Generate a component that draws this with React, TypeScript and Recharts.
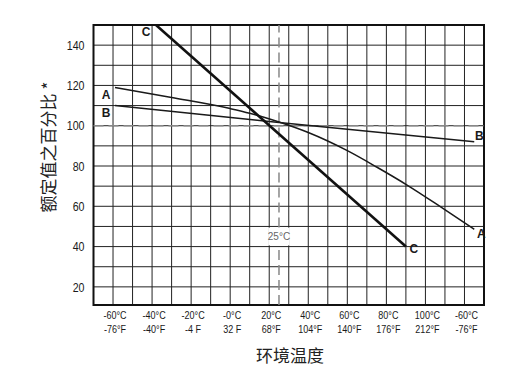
import React from 'react'
import { LineChart, Line, XAxis, YAxis, CartesianGrid, ReferenceLine, ReferenceArea, LabelList } from 'recharts'

// temperature (°C) / percent of rated value
const tempsA = [-59, -30, 0, 10, 27, 40, 60, 75, 91, 108, 125]
const valuesA = [119, 114, 108.5, 106.2, 101.2, 96.6, 87.6, 79.5, 70.3, 59.6, 48.6]
const tempsB = [-59, 25, 125]
const valuesB = [110, 101.6, 92]
const tempsC = [-38, 90]
const valuesC = [150, 40]

const gridTemps = [-70, -60, -50, -40, -30, -20, -10, 0, 10, 20, 30, 40, 50, 60, 70, 80, 90, 100, 110, 120, 130]
const labelTemps = [-60, -40, -20, 0, 20, 40, 60, 80, 100, 120]
const celsiusLabels = ['-60°C', '-40°C', '-20°C', '-0°C', '20°C', '40°C', '60°C', '80°C', '100°C', '-60°C']
const fahrenheitLabels = ['-76°F', '-40°F', '-4 F', '32 F', '68°F', '104°F', '140°F', '176°F', '212°F', '-76°F']
const gridValues = [20, 30, 40, 50, 60, 70, 80, 90, 100, 110, 120, 130, 140, 150]
const labelValues = [20, 40, 60, 80, 100, 120, 140]

const toRows = (t: number[], v: number[]) => t.map((x, i) => ({ t: x, v: v[i] }))
const dataA = toRows(tempsA, valuesA)
const dataB = toRows(tempsB, valuesB)
const dataC = toRows(tempsC, valuesC)

const sans = '"Liberation Sans", Arial, sans-serif'
const cjk = '"Noto Sans CJK SC", sans-serif'
const ink = '#1a1a1a'

// narrow look: squeeze the text horizontally
function TempTick(props: any) {
  const { x, y, payload } = props
  const i = labelTemps.indexOf(payload.value)
  if (i < 0) return null
  return (
    <g transform={`translate(${x + 2}, ${y}) scale(0.82, 1)`}>
      <text x={0} y={14} textAnchor="middle" fontSize={11} fontFamily={sans} fill={ink}>
        {celsiusLabels[i]}
      </text>
      <text x={0} y={28} textAnchor="middle" fontSize={11} fontFamily={sans} fill={ink}>
        {fahrenheitLabels[i]}
      </text>
    </g>
  )
}

function ValueTick(props: any) {
  const { x, y, payload } = props
  if (!labelValues.includes(payload.value)) return null
  return (
    <g transform={`translate(${x}, ${y}) scale(0.82, 1)`}>
      <text x={0} y={0} dy="0.36em" textAnchor="end" fontSize={13} fontFamily={sans} fill={ink}>
        {payload.value}
      </text>
    </g>
  )
}

// curve letters at line ends
const endLabel = (name: string, last: number, start: number[] | null, end: number[] | null) => (p: any) => {
  const { x, y, index } = p
  let off: number[] | null = null
  if (index === 0) off = start
  else if (index === last) off = end
  if (!off) return null
  return (
    <text
      key={`${name}-${index}`}
      x={x + off[0]}
      y={y + off[1]}
      textAnchor="middle"
      dominantBaseline="central"
      fontSize={12}
      fontWeight="bold"
      fontFamily={sans}
      fill={ink}
    >
      {name}
    </text>
  )
}

export default function App() {
  return (
    <div style={{ position: 'absolute', left: 0, top: 0, width: 511, height: 373, background: '#fff' }}>
      <LineChart width={511} height={373} margin={{ top: 25, right: 27, bottom: 28, left: 0 }}>
        <CartesianGrid stroke="#222" strokeWidth={1} />
        <XAxis
          type="number"
          dataKey="t"
          domain={[-70, 130]}
          ticks={gridTemps}
          allowDataOverflow
          interval={0}
          height={40}
          axisLine={false}
          tickLine={false}
          tickSize={0}
          tickMargin={0}
          tick={<TempTick />}
          label={{
            content: () => (
              <text x={290} y={362} textAnchor="middle" fontSize={17} fontFamily={cjk} fill="#222">
                环境温度
              </text>
            ),
          }}
        />
        <YAxis
          type="number"
          domain={[11, 150]}
          ticks={gridValues}
          allowDataOverflow
          interval={0}
          width={93.5}
          axisLine={false}
          tickLine={false}
          tickSize={0}
          tickMargin={9}
          tick={<ValueTick />}
          label={{
            content: () => (
              <text
                x={47}
                y={147}
                transform="rotate(-90, 47, 147)"
                textAnchor="middle"
                dominantBaseline="central"
                fontSize={17}
                fontFamily={cjk}
                fill="#222"
              >
                额定值之百分比 *
              </text>
            ),
          }}
        />
        <ReferenceLine y={100} stroke="#888" strokeWidth={1.5} strokeDasharray="10 5" />
        <ReferenceLine segment={[{ x: 25, y: 11 }, { x: 25, y: 40.5 }]} stroke="#888" strokeWidth={1.5} strokeDasharray="10 5" />
        <ReferenceLine segment={[{ x: 25, y: 49.5 }, { x: 25, y: 150 }]} stroke="#888" strokeWidth={1.5} strokeDasharray="10 5" />
        <ReferenceArea
          x1={19.5}
          x2={30.5}
          y1={40.6}
          y2={49.4}
          fill="#fff"
          fillOpacity={1}
          stroke="none"
          label={{ value: '25°C', position: 'center', fill: '#666', fontSize: 10, fontFamily: sans }}
        />
        <ReferenceArea x1={-70} x2={130} y1={11} y2={150} fill="none" stroke="#111" strokeWidth={2} />
        <Line type="monotone" data={dataA} dataKey="v" stroke={ink} strokeWidth={1.5} dot={false} isAnimationActive={false}>
          <LabelList dataKey="v" content={endLabel('A', dataA.length - 1, [-9, 7.5], [7, 5])} />
        </Line>
        <Line data={dataB} dataKey="v" stroke={ink} strokeWidth={1.5} dot={false} isAnimationActive={false}>
          <LabelList dataKey="v" content={endLabel('B', dataB.length - 1, [-9, 7.5], [5, -6])} />
        </Line>
        <Line data={dataC} dataKey="v" stroke="#111" strokeWidth={2.6} dot={false} isAnimationActive={false}>
          <LabelList dataKey="v" content={endLabel('C', dataC.length - 1, [-10, 7], [8, 2])} />
        </Line>
      </LineChart>
    </div>
  )
}
